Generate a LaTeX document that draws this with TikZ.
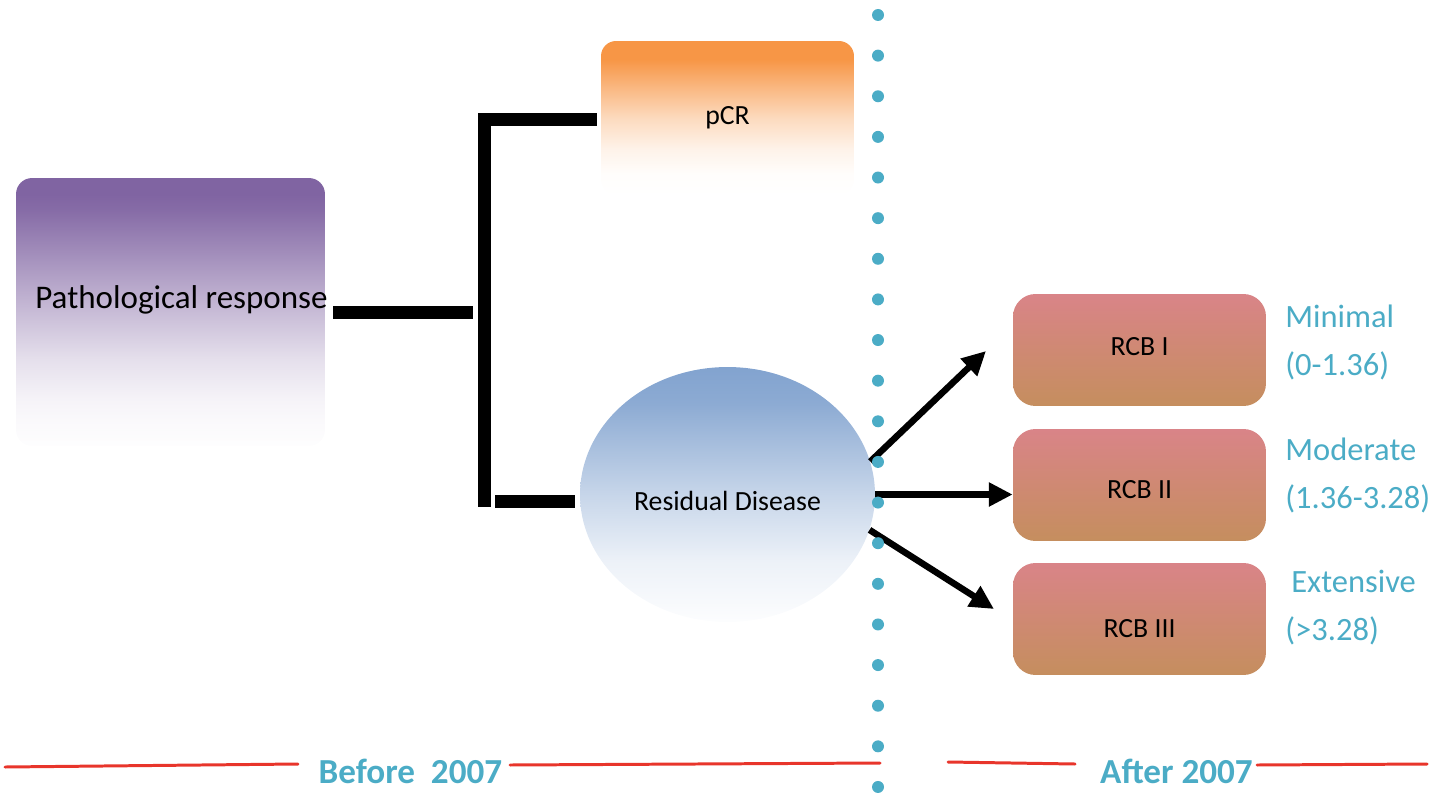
\documentclass[tikz,border=0pt]{standalone}
\usepackage{fontspec}
\setmainfont{Carlito}
\usepackage{xcolor}
\usepackage{tikz}
\usetikzlibrary{shapes.geometric,arrows.meta,positioning,calc}
\definecolor{cbPurple}{HTML}{8064A2}
\definecolor{cbOrange}{HTML}{F79646}
\definecolor{cbBlue}{HTML}{82A3CF}
\definecolor{cbTeal}{HTML}{4BACC6}
\definecolor{cbRcbTop}{HTML}{D98488}
\definecolor{cbRcbBot}{HTML}{C58E5E}
\definecolor{cbRed}{HTML}{E8352B}
\pgfdeclareverticalshading{purplefade}{100bp}{color(0bp)=(white); color(25bp)=(cbPurple!1!white);
  color(30bp)=(cbPurple!4!white); color(34bp)=(cbPurple!8!white); color(41bp)=(cbPurple!20!white);
  color(52.6bp)=(cbPurple!50!white); color(61.6bp)=(cbPurple!75!white);
  color(69bp)=(cbPurple!95!white); color(72bp)=(cbPurple); color(100bp)=(cbPurple)}
\pgfdeclareverticalshading{orangefade}{100bp}{color(0bp)=(white); color(25bp)=(white);
  color(32bp)=(cbOrange!2!white); color(40bp)=(cbOrange!12!white); color(50bp)=(cbOrange!35!white);
  color(59bp)=(cbOrange!65!white); color(69bp)=(cbOrange); color(100bp)=(cbOrange)}
\pgfdeclareverticalshading{bluefade}{100bp}{color(0bp)=(white); color(25bp)=(cbBlue!2!white);
  color(37bp)=(cbBlue!15!white); color(50bp)=(cbBlue!45!white);
  color(68bp)=(cbBlue!92!white); color(75bp)=(cbBlue); color(100bp)=(cbBlue)}

\begin{document}
\begin{tikzpicture}[x=0.02cm,y=-0.02cm,
  bigbox/.style={shading=purplefade,rounded corners=0.32cm,minimum width=6.18cm,
                 minimum height=5.36cm,inner sep=0pt},
  pcrbox/.style={shading=orangefade,rounded corners=0.3cm,minimum width=5.06cm,
                 minimum height=3.08cm,inner sep=0pt,font=\fontsize{15.8}{19}\selectfont},
  oval/.style={ellipse,shading=bluefade,minimum width=5.9cm,minimum height=5.1cm,
               inner sep=0pt,font=\fontsize{15.8}{19}\selectfont},
  rcb/.style={top color=cbRcbTop,bottom color=cbRcbBot,rounded corners=0.45cm,
              minimum width=5.06cm,minimum height=2.24cm,inner sep=0pt,
              font=\fontsize{15.8}{19}\selectfont},
  txt/.style={inner sep=0pt,anchor=base west,font=\fontsize{18.8}{22}\selectfont},
  lbl/.style={cbTeal,inner sep=0pt,anchor=base west,font=\fontsize{18.5}{22}\selectfont},
  era/.style={cbTeal,inner sep=1pt,anchor=base,font=\bfseries\fontsize{20}{24}\selectfont},
  bar/.style={black,line width=7.4pt},
  a/.style={-{Triangle[length=13.6pt,width=13pt]},black,line width=3.7pt},
  rule/.style={cbRed,line width=1.7pt,line cap=round}]
\useasboundingbox (0,0) rectangle (1443,794);
% boxes
\node[bigbox] (patho) at (170.5,312) {};
\node[txt] (pathol) at (35,308) {Pathological response};
\node[pcrbox] (pcr) at (727.5,118) {pCR};
\node[oval,text height=0.62cm,text depth=0cm] (resid) at (727.5,494.5) {Residual Disease};
\node[rcb,text height=0.2cm,text depth=0cm] (rcb1) at (1139.5,350) {RCB I};
\node[rcb,text height=0.52cm,text depth=0cm] (rcb2) at (1139.5,485) {RCB II};
\node[rcb,text height=0.72cm,text depth=0cm] (rcb3) at (1139.5,619) {RCB III};
% score ranges
\node[lbl] (minlbl) at (1285,327) {Minimal};
\node[lbl] (minrng) at (1285,375) {(0-1.36)};
\node[lbl] (modlbl) at (1285,460) {Moderate};
\node[lbl] (modrng) at (1285,508) {(1.36-3.28)};
\node[lbl] (extlbl) at (1291,592) {Extensive};
\node[lbl] (extrng) at (1285,640) {(>3.28)};
% bracket
\coordinate (brtop) at (484,119.5);
\coordinate (brbot) at (484,507);
\coordinate (brlow) at (484,501.5);
\draw[bar] ($(brtop -| pcr.west)+(-4,0)$) -- (brtop) -- (brbot);
\draw[bar] ($(patho.east)+(8,0)$) -- ($(patho.east -| brtop)+(-11,0)$);
\draw[bar] ($(brlow)+(11,0)$) -- ($(brlow -| resid.west)+(-5,0)$);
% arrows
\coordinate (tip1) at (986,351);
\coordinate (tip3) at (994,609);
\draw[a] (resid.13) -- (tip1);
\draw[a] (resid.east) -- (resid.east -| rcb2.west);
\draw[a] (resid.-14) -- (tip3);
% time line
\node[era] (before) at (410.5,783) {Before\ \ 2007};
\node[era] (after) at (1176.5,783) {After 2007};
\coordinate (r1a) at (5,767);    \coordinate (r1b) at (298,764);
\coordinate (r2a) at (510,765);  \coordinate (r2b) at (880,763);
\coordinate (r3a) at (948,762);  \coordinate (r3b) at (1075,764);
\coordinate (r4a) at (1257,765); \coordinate (r4b) at (1427,764);
\draw[rule] (r1a) -- (r1b);
\draw[rule] (r2a) -- (r2b);
\draw[rule] (r3a) -- (r3b);
\draw[rule] (r4a) -- (r4b);
\foreach \k in {0,...,19}
  \fill[cbTeal] (878,15+40.63*\k) circle (0.12cm);
\end{tikzpicture}
\end{document}
